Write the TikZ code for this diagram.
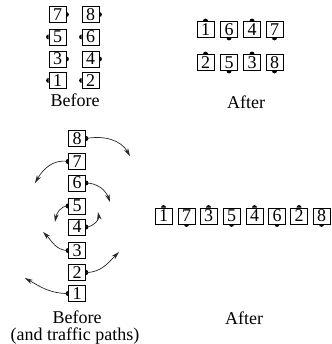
\documentclass[tikz,border=0pt]{standalone}
\usepackage{fontspec}
\setmainfont{Liberation Serif}
\usetikzlibrary{arrows.meta}
\begin{document}
\begin{tikzpicture}[x=1pt, y=1pt,
    box/.style={draw, fill=white, line width=0.8pt, minimum width=17pt,
        minimum height=16pt, inner sep=0pt, font=\fontsize{18}{18}\selectfont},
    caption/.style={font=\fontsize{18}{20}\selectfont},
    traffic/.style={black!85, line width=0.7pt, -{Stealth[length=8pt, width=4.5pt]}}]
    \useasboundingbox (0,0) rectangle (331,-344);

    % two columns, before
    \foreach \x/\y/\txt/\name in {
        57.5/14.5/7/bef7, 90.5/14.5/8/bef8,
        57.5/37/5/bef5,   90.5/37/6/bef6,
        57.5/59/3/bef3,   90.5/59/4/bef4,
        57.5/80.5/1/bef1, 90.5/80.5/2/bef2} {
        \node[box] (\name) at (\x, -\y) {\txt};
    }
    % two rows, after
    \foreach \x/\y/\txt/\name in {
        205.5/29.5/1/aft1, 229/29.5/6/aft6, 252/29.5/4/aft4, 274.5/29.5/7/aft7,
        205.5/62.5/2/aft2, 229/62.5/5/aft5, 252/62.5/3/aft3, 274.5/62.5/8/aft8} {
        \node[box] (\name) at (\x, -\y) {\txt};
    }
    % one column, before
    \foreach \y/\txt in {138.5/8, 161.5/7, 183/6, 206/5, 227/4, 250.5/3, 272.5/2, 293.5/1} {
        \node[box] (col\txt) at (77, -\y) {\txt};
    }
    % one row, after
    \foreach \x/\txt in {163.5/1, 186.5/7, 208.5/3, 231.5/5, 254.5/4, 277/6, 299/2, 321.5/8} {
        \node[box] (row\txt) at (\x, -216) {\txt};
    }

    % door dots
    \foreach \name/\dir in {
        bef7/0, bef8/0, bef5/180, bef6/180, bef3/0, bef4/0, bef1/180, bef2/180,
        aft1/90, aft6/270, aft4/90, aft7/270, aft2/90, aft5/270, aft3/90, aft8/270,
        col8/0, col7/180, col6/0, col5/180, col4/0, col3/180, col2/0, col1/180,
        row1/90, row7/270, row3/90, row5/270, row4/90, row6/270, row2/90, row8/270} {
        \fill[shift={(\name.\dir)}, rotate=\dir] (0,2.5) arc (90:-90:2.5) -- cycle;
    }

    % traffic paths
    \coordinate (end8) at (130,-156);
    \coordinate (end7) at (35,-183);
    \coordinate (end6) at (110,-202);
    \coordinate (end5) at (55,-222);
    \coordinate (end4) at (98,-212);
    \coordinate (end3) at (43,-232);
    \coordinate (end2) at (119,-252);
    \coordinate (end1) at (25,-278);
    \draw[traffic] (col8.east) to[out=10, in=120] (end8);
    \draw[traffic] (col7.west) to[out=170, in=60] (end7);
    \draw[traffic] (col6.east) to[out=0, in=110] (end6);
    \draw[traffic] (col5.west) to[out=180, in=80] (end5);
    \draw[traffic] (col4.east) to[out=0, in=-80] (end4);
    \draw[traffic] (col3.west) to[out=180, in=-45] (end3);
    \draw[traffic] (col2.east) to[out=0, in=-135] (end2);
    \draw[traffic] (col1.west) to[out=180, in=-30] (end1);

    \node[caption] (capA) at (75, -100) {Before};
    \node[caption] (capB) at (246, -102) {After};
    \node[caption] (capC) at (77, -317) {Before};
    \node[caption] (capD) at (75, -336) {(and traffic paths)};
    \node[caption] (capE) at (244, -318) {After};
\end{tikzpicture}
\end{document}
